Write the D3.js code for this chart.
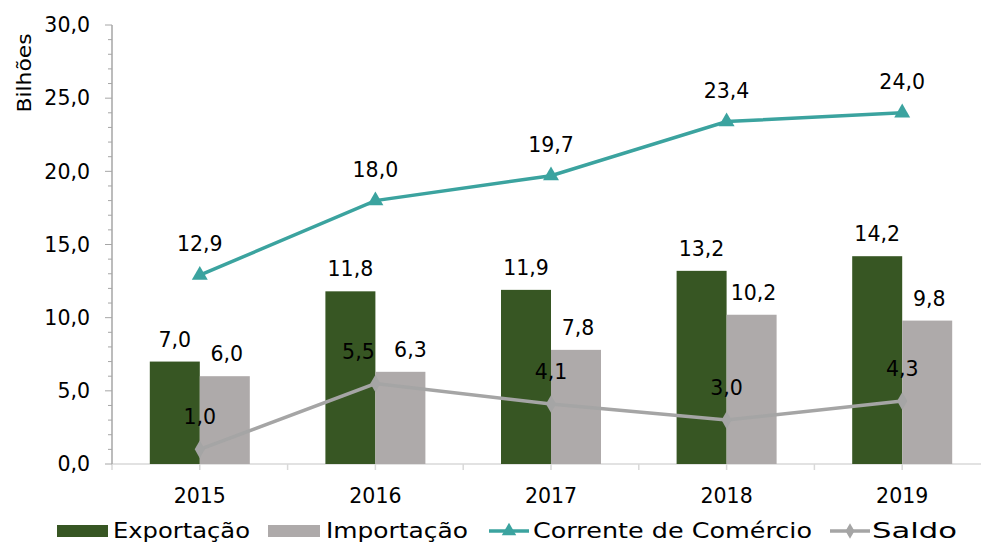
<!DOCTYPE html>
<html>
<head>
<meta charset="utf-8">
<script src="https://cdn.jsdelivr.net/npm/d3@7"></script>
<style>
  body { margin: 0; background: #fff; }
  text { font-family: "DejaVu Sans", sans-serif; fill: #000; }
</style>
</head>
<body>
<div id="chart"></div>
<script>
const anos = ["2015", "2016", "2017", "2018", "2019"];
const exportacao = [7.0, 11.8, 11.9, 13.2, 14.2];
const importacao = [6.0, 6.3, 7.8, 10.2, 9.8];
const corrente = [12.9, 18.0, 19.7, 23.4, 24.0];
const saldo = [1.0, 5.5, 4.1, 3.0, 4.3];
const yTicks = [0, 5, 10, 15, 20, 25, 30];

const width = 981, height = 542;
const margins = { top: 25, right: -9, bottom: 78, left: 112 };
const fmt = v => v.toFixed(1).replace(".", ",");
const fs = "20.5px";

const cores = { exp: "#375623", imp: "#aeaaaa", cor: "#3ba39f", sal: "#a5a5a5" };

const svg = d3.select("#chart").append("svg")
    .attr("width", width)
    .attr("height", height);

// Escalas
const xScale = d3.scaleBand()
    .domain(anos)
    .range([margins.left, width - margins.right]);

const yScale = d3.scaleLinear()
    .domain([0, 30])
    .range([height - margins.bottom, margins.top]);

const barW = 50;
const cx = d => xScale(d) + xScale.bandwidth() / 2;

// Eixo X (linha + marcas)
svg.append("line")
    .attr("x1", margins.left).attr("x2", width - margins.right)
    .attr("y1", yScale(0)).attr("y2", yScale(0))
    .attr("stroke", "#d9d9d9").attr("stroke-width", 1.5);

const marcasX = [];
anos.forEach(a => { marcasX.push(xScale(a)); marcasX.push(cx(a)); });
svg.selectAll(".xtick").data(marcasX).join("line")
    .attr("x1", d => d).attr("x2", d => d)
    .attr("y1", yScale(0)).attr("y2", yScale(0) + 6)
    .attr("stroke", "#d9d9d9").attr("stroke-width", 1.5);

svg.selectAll(".xlab").data(anos).join("text")
    .attr("x", d => cx(d))
    .attr("y", yScale(0) + 39)
    .attr("text-anchor", "middle")
    .style("font-size", fs)
    .text(d => d);

// Eixo Y
const minor = d3.range(0, 31, 1);
svg.selectAll(".ymin").data(minor).join("line")
    .attr("x1", d => d % 5 === 0 ? margins.left - 7 : margins.left - 4)
    .attr("x2", margins.left)
    .attr("y1", d => yScale(d)).attr("y2", d => yScale(d))
    .attr("stroke", "#a6a6a6").attr("stroke-width", 1);

svg.append("line")
    .attr("x1", margins.left).attr("x2", margins.left)
    .attr("y1", yScale(30)).attr("y2", yScale(0))
    .attr("stroke", "#a6a6a6").attr("stroke-width", 1.5);

svg.selectAll(".ylab").data(yTicks).join("text")
    .attr("x", margins.left - 22)
    .attr("y", d => yScale(d))
    .attr("dy", "0.35em")
    .attr("text-anchor", "end")
    .style("font-size", fs)
    .text(d => fmt(d));

svg.append("text")
    .attr("transform", `translate(31, 73) rotate(-90)`)
    .attr("text-anchor", "middle")
    .style("font-size", "20px")
    .attr("textLength", 79)
    .attr("lengthAdjust", "spacingAndGlyphs")
    .text("Bilhões");

// Barras
svg.selectAll(".bexp").data(anos).join("rect")
    .attr("x", d => cx(d) - barW)
    .attr("y", (d, i) => yScale(exportacao[i]))
    .attr("width", barW)
    .attr("height", (d, i) => yScale(0) - yScale(exportacao[i]))
    .attr("fill", cores.exp);

svg.selectAll(".bimp").data(anos).join("rect")
    .attr("x", d => cx(d))
    .attr("y", (d, i) => yScale(importacao[i]))
    .attr("width", barW)
    .attr("height", (d, i) => yScale(0) - yScale(importacao[i]))
    .attr("fill", cores.imp);

// Linhas
const linha = d3.line()
    .x(d => cx(d.ano))
    .y(d => yScale(d.v));

const dadosCor = anos.map((a, i) => ({ ano: a, v: corrente[i] }));
const dadosSal = anos.map((a, i) => ({ ano: a, v: saldo[i] }));

svg.append("path").datum(dadosSal)
    .attr("d", linha).attr("fill", "none")
    .attr("stroke", cores.sal).attr("stroke-width", 3.5);

svg.selectAll(".msal").data(dadosSal).join("path")
    .attr("transform", d => `translate(${cx(d.ano)},${yScale(d.v)})`)
    .attr("d", d3.symbol(d3.symbolDiamond, 90))
    .attr("fill", cores.sal);

svg.append("path").datum(dadosCor)
    .attr("d", linha).attr("fill", "none")
    .attr("stroke", cores.cor).attr("stroke-width", 3.5);

svg.selectAll(".mcor").data(dadosCor).join("path")
    .attr("transform", d => `translate(${cx(d.ano)},${yScale(d.v)})`)
    .attr("d", d3.symbol(d3.symbolTriangle, 110))
    .attr("fill", cores.cor);

// Rótulos de dados
const rotulo = (dados, dx, dyOff, ajuste = []) => dados.forEach((v, i) => {
    svg.append("text")
        .attr("x", cx(anos[i]) + dx + (ajuste[i] || 0))
        .attr("y", yScale(v) - dyOff)
        .attr("text-anchor", "middle")
        .style("font-size", fs)
        .text(fmt(v));
});

rotulo(exportacao, -25, 15);
rotulo(importacao, 27, 15, [0, 8, 0, 0, 0]);
rotulo(corrente, 0, 24);
rotulo(saldo, 0, 25, [0, -17, 0, 0, 0]);

// Legenda
const legY = 531;
const leg = svg.append("g").style("font-size", fs);

function textoLeg(x, largura, txt) {
    leg.append("text").attr("x", x).attr("y", legY).attr("dy", "0.35em")
        .attr("textLength", largura)
        .attr("lengthAdjust", "spacingAndGlyphs")
        .text(txt);
}

leg.append("rect").attr("x", 57).attr("y", legY - 6).attr("width", 51).attr("height", 12).attr("fill", cores.exp);
textoLeg(113, 137, "Exportação");

leg.append("rect").attr("x", 268).attr("y", legY - 6).attr("width", 52).attr("height", 12).attr("fill", cores.imp);
textoLeg(326, 142, "Importação");

leg.append("line").attr("x1", 489).attr("x2", 529).attr("y1", legY).attr("y2", legY)
    .attr("stroke", cores.cor).attr("stroke-width", 3.5);
leg.append("path").attr("transform", `translate(509,${legY})`)
    .attr("d", d3.symbol(d3.symbolTriangle, 90)).attr("fill", cores.cor);
textoLeg(533, 279, "Corrente de Comércio");

leg.append("line").attr("x1", 830).attr("x2", 870).attr("y1", legY).attr("y2", legY)
    .attr("stroke", cores.sal).attr("stroke-width", 3.5);
leg.append("path").attr("transform", `translate(850,${legY})`)
    .attr("d", d3.symbol(d3.symbolDiamond, 70)).attr("fill", cores.sal);
textoLeg(872, 85, "Saldo");
</script>
</body>
</html>
